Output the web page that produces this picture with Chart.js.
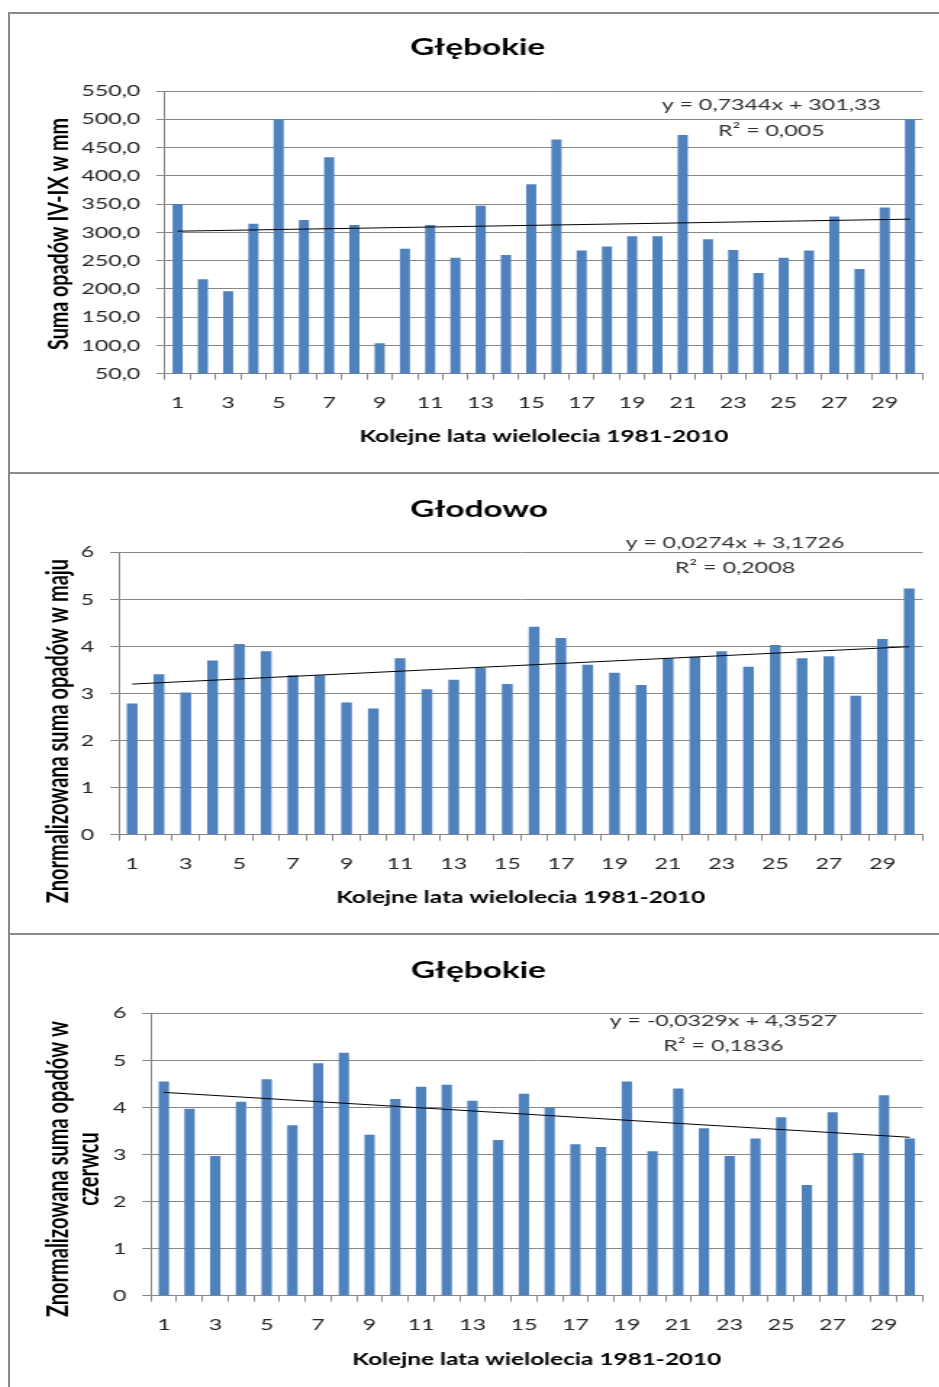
<!DOCTYPE html>
<html lang="pl">
<head>
<meta charset="utf-8">
<title>Opady 1981-2010</title>
<script src="https://cdn.jsdelivr.net/npm/chart.js@4.4.1/dist/chart.umd.min.js"></script>
<style>
  html, body { margin: 0; padding: 0; background: #fff; }
  body { width: 939px; height: 1387px; position: relative; overflow: hidden; }
  .panel {
    position: absolute; left: 8px; width: 980px; height: 470px;
    border-top: 2px solid #8a8a8a; border-left: 2px solid #8a8a8a;
    overflow: hidden; background: #fff;
  }
  .stretch { width: 641px; height: 458px; transform: scaleX(1.45); transform-origin: 0 0; }
  canvas { display: block; }
</style>
</head>
<body>
<div class="panel" style="top:12px"><div class="stretch"><canvas id="c1" width="641" height="458"></canvas></div></div>
<div class="panel" style="top:472px"><div class="stretch"><canvas id="c2" width="641" height="458"></canvas></div></div>
<div class="panel" style="top:933px"><div class="stretch"><canvas id="c3" width="641" height="458"></canvas></div></div>
<script>
// Kolejne lata wielolecia 1981-2010 (1..30)
const years = ['1','2','3','4','5','6','7','8','9','10','11','12','13','14','15',
               '16','17','18','19','20','21','22','23','24','25','26','27','28','29','30'];

// Głębokie – suma opadów IV-IX [mm]
const sumGlebokie = [350, 217, 196, 315, 500, 322, 433, 313, 104, 271,
                     313, 255, 347, 260, 385, 464, 268, 275, 293, 293,
                     472, 288, 269, 228, 255, 268, 328, 235, 344, 500];
// Głodowo – znormalizowana suma opadów w maju
const mayGlodowo = [2.79, 3.41, 3.02, 3.70, 4.05, 3.90, 3.39, 3.39, 2.81, 2.68,
                    3.75, 3.09, 3.29, 3.54, 3.20, 4.42, 4.18, 3.61, 3.44, 3.18,
                    3.75, 3.78, 3.90, 3.57, 4.03, 3.75, 3.79, 2.95, 4.16, 5.23];
// Głębokie – znormalizowana suma opadów w czerwcu
const juneGlebokie = [4.55, 3.97, 2.97, 4.12, 4.60, 3.62, 4.94, 5.16, 3.42, 4.18,
                      4.44, 4.48, 4.14, 3.31, 4.29, 4.00, 3.22, 3.16, 4.55, 3.07,
                      4.40, 3.56, 2.97, 3.34, 3.79, 2.35, 3.90, 3.03, 4.26, 3.34];

// Linear trend coefficients [slope, intercept] and R²
const trendGlebokie = [0.7344, 301.33];
const trendGlodowo = [0.0274, 3.1726];
const trendCzerwiec = [-0.0329, 4.3527];
const r2Values = [0.005, 0.2008, 0.1836];

// Y axis ranges [min, max, step]
const yRangeSum = [50, 550, 50];
const yRangeNorm = [0, 6, 1];

const BAR = '#4F81BD';
const GRID = '#868686';
const FONT = 'Lato, "Open Sans", sans-serif';

const comma = v => String(v).replace('.', ',');

function trendLine(coef) {
  const last = years.length - 1;
  return years.map((_, i) => (i === 0 || i === last) ? coef[0] * (i + 1) + coef[1] : null);
}

const panelText = {
  id: 'panelText',
  afterDraw(chart, args, o) {
    const ctx = chart.ctx;
    const a = chart.chartArea;
    ctx.save();
    ctx.textAlign = 'center';
    ctx.textBaseline = 'alphabetic';
    ctx.fillStyle = '#000';
    ctx.font = 'bold 23px ' + FONT;
    ctx.fillText(o.title, o.titleX, o.titleY);

    ctx.font = 'bold 16.8px ' + FONT;
    ctx.fillText('Kolejne lata wielolecia 1981-2010', (a.left + a.right) / 2, o.xTitleY);

    ctx.font = 'bold ' + o.yTitleSize + 'px ' + FONT;
    o.yTitle.forEach((line, k) => {
      ctx.save();
      ctx.translate(o.yTitleX[k], o.yTitleY);
      ctx.rotate(-Math.PI / 2);
      ctx.fillText(line, 0, 0);
      ctx.restore();
    });

    ctx.fillStyle = '#333';
    ctx.font = '16px ' + FONT;
    const c = o.trend;
    const sign = c[1] < 0 ? ' - ' : ' + ';
    ctx.fillText('y = ' + comma(c[0]) + 'x' + sign + comma(Math.abs(c[1])), o.eqX, o.eqY[0]);
    ctx.fillText('R² = ' + comma(o.r2), o.eqX, o.eqY[1]);
    ctx.restore();
  }
};

function makeChart(id, values, coef, range, fmt, layout, text) {
  return new Chart(document.getElementById(id), {
    data: {
      labels: years,
      datasets: [
        { type: 'line', data: trendLine(coef), borderColor: '#000', borderWidth: 1,
          pointRadius: 0, spanGaps: true, order: 0 },
        { type: 'bar', data: values, backgroundColor: BAR, borderWidth: 0,
          barPercentage: 0.4, categoryPercentage: 1.0, order: 1 }
      ]
    },
    options: {
      responsive: false,
      animation: false,
      events: [],
      layout: { padding: layout.padding },
      plugins: {
        legend: { display: false },
        title: { display: false },
        tooltip: { enabled: false },
        panelText: Object.assign({ trend: coef }, text)
      },
      scales: {
        x: {
          type: 'category',
          offset: true,
          afterFit: s => { s.height = 40; },
          grid: { offset: true, drawOnChartArea: false, drawTicks: true, tickLength: 6, color: GRID },
          border: { color: GRID, width: 1 },
          ticks: {
            autoSkip: false, maxRotation: 0, padding: 14, color: '#262626',
            font: { family: FONT, size: 16 },
            callback: (v, i) => (i % 2 === 0 ? years[i] : '')
          }
        },
        y: {
          min: range[0], max: range[1],
          afterFit: s => { s.width = layout.yWidth; },
          grid: { color: GRID, tickLength: 6, lineWidth: 1 },
          border: { color: GRID, width: 1 },
          ticks: { stepSize: range[2], padding: 11, color: '#262626',
                   font: { family: FONT, size: 16 }, callback: fmt }
        }
      }
    },
    plugins: [panelText]
  });
}

makeChart('c1', sumGlebokie, trendGlebokie, yRangeSum, v => v.toFixed(1).replace('.', ','),
  { padding: { left: 46.9, right: 11.6, top: 77, bottom: 58.3 }, yWidth: 60 },
  { title: 'Głębokie', titleX: 322.5, titleY: 40.5, xTitleY: 428,
    yTitle: ['Suma opadów IV-IX w mm'], yTitleX: [40], yTitleY: 220, yTitleSize: 19.7,
    eqX: 525, eqY: [96, 121.5], r2: r2Values[0] });

makeChart('c2', mayGlodowo, trendGlodowo, yRangeNorm, v => String(v),
  { padding: { left: 35, right: 11.6, top: 78.3, bottom: 57.3 }, yWidth: 40 },
  { title: 'Głodowo', titleX: 323.5, titleY: 43, xTitleY: 428.5,
    yTitle: ['Znormalizowana suma opadów w maju'], yTitleX: [40], yTitleY: 257, yTitleSize: 20,
    eqX: 500, eqY: [73.5, 98.5], r2: r2Values[1] });

makeChart('c3', juneGlebokie, trendCzerwiec, yRangeNorm, v => String(v),
  { padding: { left: 57.2, right: 11.6, top: 78.3, bottom: 57.3 }, yWidth: 40 },
  { title: 'Głębokie', titleX: 323, titleY: 43, xTitleY: 429.5,
    yTitle: ['Znormalizowana suma opadów w', 'czerwcu'], yTitleX: [39.5, 61], yTitleY: 234, yTitleSize: 20,
    eqX: 492, eqY: [90.5, 116], r2: r2Values[2] });
</script>
</body>
</html>
